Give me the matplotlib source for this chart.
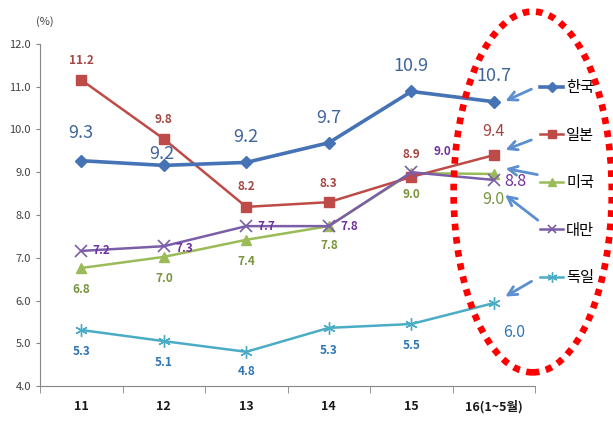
import matplotlib.pyplot as plt
import numpy as np
from matplotlib.patches import Ellipse

plt.rcParams['font.family'] = ['Noto Sans CJK KR', 'DejaVu Sans']

# ----------------------------- data -----------------------------
years = ['11', '12', '13', '14', '15', '16(1~5월)']
korea = [9.27, 9.16, 9.23, 9.69, 10.89, 10.65]
japan = [11.16, 9.78, 8.19, 8.30, 8.89, 9.40]
usa = [6.76, 7.02, 7.42, 7.74, 8.98, 8.96]
taiwan = [7.16, 7.27, 7.74, 7.74, 9.00, 8.82]
germany = [5.31, 5.05, 4.80, 5.36, 5.45, 5.94]

korea_lbl = ['9.3', '9.2', '9.2', '9.7', '10.9', '10.7']
japan_lbl = ['11.2', '9.8', '8.2', '8.3', '8.9', '9.4']
usa_lbl = ['6.8', '7.0', '7.4', '7.8', '9.0', '9.0']
taiwan_lbl = ['7.2', '7.3', '7.7', '7.8', '9.0', '8.8']
germany_lbl = ['5.3', '5.1', '4.8', '5.3', '5.5', '6.0']

names = ['한국', '일본', '미국', '대만', '독일']

x = np.arange(len(years))

fig = plt.figure(figsize=(6.13, 4.21), dpi=100)
ax = fig.add_axes([0.0653, 0.0831, 0.8075, 0.8124])

l1, = ax.plot(x, korea, color='#4673B5', lw=2.6, marker='D', ms=6.5, zorder=5)
l2, = ax.plot(x, japan, color='#BE4B48', lw=1.8, marker='s', ms=6.5, zorder=4)
l3, = ax.plot(x, usa, color='#9BBB59', lw=1.8, marker='^', ms=7, zorder=3)
l4, = ax.plot(x, taiwan, color='#7B5EA7', lw=1.8, marker='x', ms=8, mew=1.2, zorder=4)
l5, = ax.plot(x, germany, color='#4BACC6', lw=1.8, marker=(6, 2, 0), ms=9, mew=1.0, zorder=3)

# ---------------------------- labels ----------------------------
def put(vals, lbls, offs, color, sizes, weights):
    for i in range(len(vals)):
        ax.annotate(lbls[i], (x[i], vals[i]), xytext=offs[i], textcoords='offset pixels',
                    ha='center', va='center', color=color, fontsize=sizes[i],
                    fontweight=weights[i], zorder=6)

put(korea, korea_lbl, [(0, 28), (-2, 11), (0, 25), (0, 25), (0, 25), (0, 26)],
    '#3F659C', [13] * 6, ['normal'] * 6)
put(japan, japan_lbl, [(0, 19), (0, 19), (0, 20), (0, 19), (0, 22), (0, 24)],
    '#A64542', [8.5] * 5 + [11.5], ['bold'] * 5 + ['normal'])
put(usa, usa_lbl, [(0, -21), (0, -22), (0, -22), (0, -19), (0, -21), (0, -26)],
    '#77933C', [8.5] * 5 + [11.5], ['bold'] * 5 + ['normal'])
put(taiwan, taiwan_lbl, [(20, 0), (20, -2), (20, 0), (20, 0), (31, 21), (22, -2)],
    '#7030A0', [8.5] * 5 + [11.5], ['bold'] * 5 + ['normal'])
put(germany, germany_lbl, [(0, -21), (0, -21), (0, -20), (0, -23), (0, -21), (20, -29)],
    '#2E75B6', [8.5] * 5 + [11.5], ['bold'] * 5 + ['normal'])

# ----------------------------- axes -----------------------------
ax.set_xlim(-0.5, 5.5)
ax.set_ylim(4, 12)
ax.set_yticks(np.arange(4, 12.1, 1))
ax.set_yticklabels(['%.1f' % v for v in np.arange(4, 12.1, 1)])
ax.set_xticks(x)
ax.set_xticklabels(years, fontweight='bold', fontsize=9)
ax.set_xticks(np.arange(-0.5, 5.6, 1), minor=True)
ax.tick_params(axis='x', which='major', length=0, pad=10, colors='#1a1a1a')
ax.tick_params(axis='x', which='minor', length=5, color='#868686')
ax.tick_params(axis='y', length=3, color='#868686', labelsize=8, labelcolor='#404040')
for s in ['top', 'right']:
    ax.spines[s].set_visible(False)
for s in ['left', 'bottom']:
    ax.spines[s].set_color('#868686')

fig.text(45 / 613, 1 - 22 / 421, '(%)', fontsize=8, color='#404040', ha='center', va='center')

# ---------------------------- legend ----------------------------
fig.legend([l1, l2, l3, l4, l5], names, loc='upper left', bbox_to_anchor=(0.881, 0.812),
           frameon=False, borderpad=0, borderaxespad=0, fontsize=11, handlelength=1.5,
           handletextpad=0.2, labelspacing=2.0, markerscale=0.8)

# ---------------------------- arrows ----------------------------
heads = [(5.11, 10.64), (5.11, 9.50), (5.11, 9.10), (5.11, 8.51), (5.11, 6.06)]
tails = [(0.871, 0.791), (0.871, 0.670), (0.881, 0.584), (0.881, 0.473), (0.871, 0.335)]
for h, t in zip(heads, tails):
    ax.annotate('', xy=h, xycoords='data', xytext=t, textcoords='figure fraction',
                arrowprops=dict(arrowstyle='->', color='#5B8FD0', lw=2, mutation_scale=16),
                annotation_clip=False, zorder=7)

ell = Ellipse((0.869, 0.544), 0.258, 0.857, transform=fig.transFigure, fill=False,
              edgecolor='#FF0000', lw=4.8, linestyle=(0, (1, 1)), zorder=10)
fig.add_artist(ell)

fig.savefig('out.png', dpi=100)
